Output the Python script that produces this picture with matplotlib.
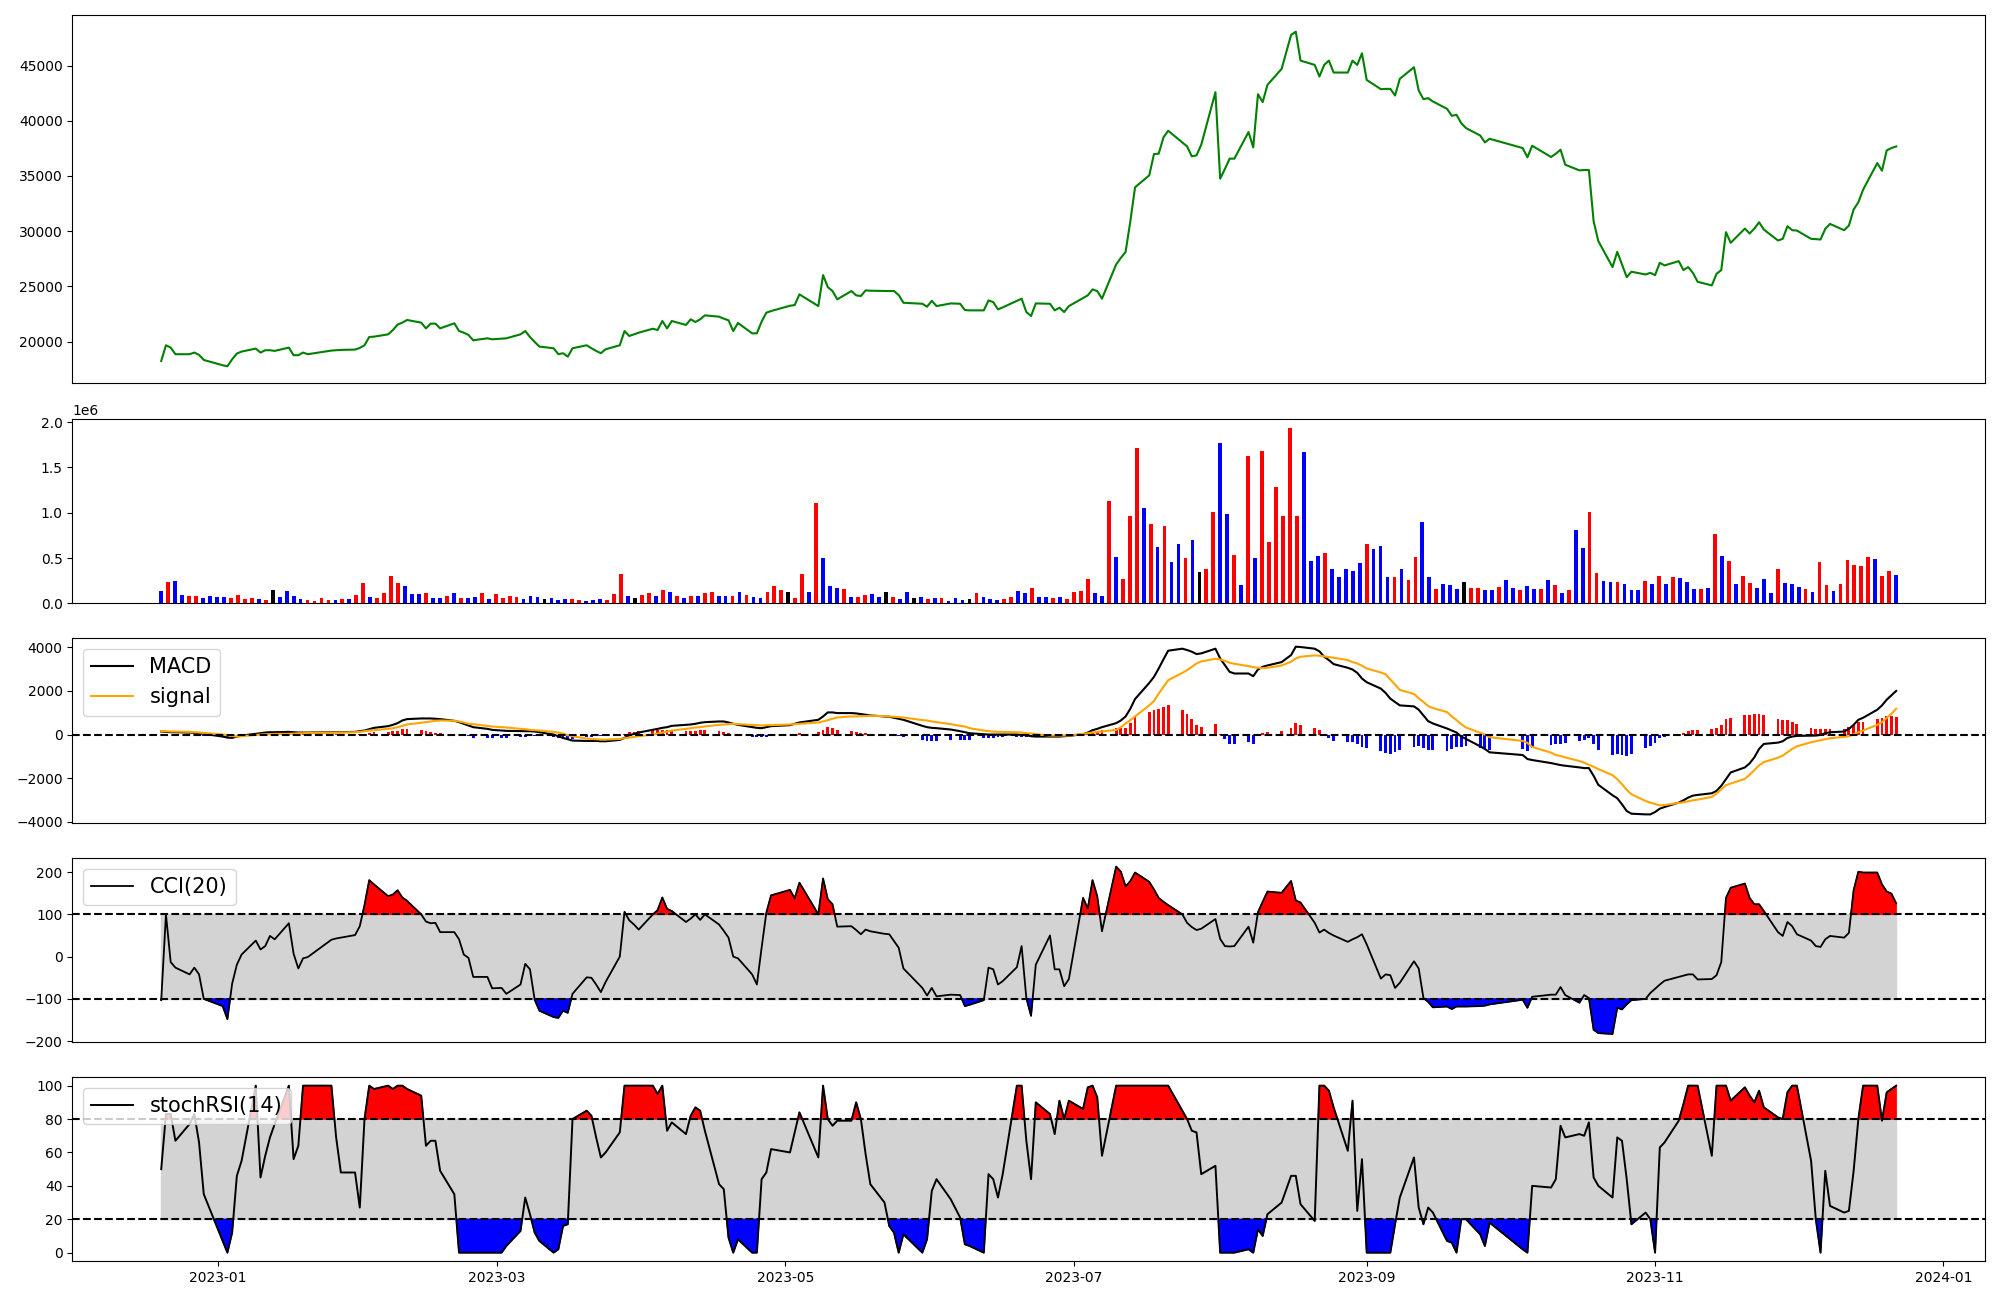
import numpy as np
import pandas as pd
import matplotlib
matplotlib.use("Agg")
import matplotlib.pyplot as plt
import matplotlib.dates as mdates

# ---------------- data ----------------
holidays = ['2022-12-30', '2023-01-23', '2023-01-24', '2023-03-01', '2023-05-01',
            '2023-05-05', '2023-05-29', '2023-06-06', '2023-08-15', '2023-09-28',
            '2023-09-29', '2023-10-02', '2023-10-03', '2023-10-09']
dates = pd.bdate_range('2022-12-20', '2023-12-22')
dates = dates[~dates.isin(pd.to_datetime(holidays))]

close = [
    18250, 19670, 19460, 18860, 18860, 19010, 18800, 18340,
    17860, 17770, 18400, 18920, 19100, 19370, 19010, 19220, 19220, 19160,
    19460, 18770, 18770, 19010, 18860, 19190, 19220, 19250, 19280, 19430,
    19670, 20420, 20450, 20660, 21050, 21540, 21720, 21960, 21720, 21200,
    21630, 21630, 21200, 21660, 20960, 20810, 20600, 20120, 20300, 20210,
    20270, 20300, 20660, 20960, 20420, 19970, 19550, 19400, 18860, 18950,
    18640, 19400, 19670, 19400, 19160, 18950, 19310, 19670, 20960, 20510, 20660, 20810,
    21170, 21050, 21870, 21200, 21870, 21510, 22020, 21780, 22020, 22380,
    22260, 22080, 21930, 20960, 21690, 20750, 20750, 21810, 22620, 22770,
    23250, 23310, 24280, 23220, 26020, 24940, 24580, 23830, 24580, 24190,
    24130, 24640, 24610, 24580, 24580, 24580, 24220, 23520, 23430, 23160,
    23700, 23220, 23460, 23430, 22860, 22830, 22830, 23730, 23580, 22920,
    23100, 23700, 23890, 22680, 22320, 23460, 23430, 22830, 23070, 22680, 23220,
    23950, 24190, 24730, 24580, 23890, 26990, 27590, 28130, 30900, 33980,
    35060, 36990, 37020, 38490, 39100, 38040, 37680, 36780, 36870, 37830, 42590,
    34760, 35630, 36570, 36570, 38980, 37590, 42410, 41690, 43250, 44700,
    47770, 48070, 45450, 45060, 44010, 45060, 45450, 44370, 44370, 45450, 45060, 46110,
    43700, 42860, 42890, 42890, 42290, 43800, 44850, 42740, 41960, 42050,
    41750, 41080, 40450, 40540, 39790, 39340, 38670, 38040, 38370,
    37530, 36690, 37740, 36720, 37020, 37380, 36020, 35510, 35540, 35540,
    30900, 29100, 26750, 28130, 26990, 25840, 26330, 26080, 26230,
    26020, 27140, 26900, 27290, 26480, 26750, 26230, 25420, 25090, 26140,
    26480, 29910, 28950, 30240, 29790, 30240, 30810, 30150, 29160, 29310, 30450, 30090,
    30060, 29310, 29280, 29250, 30210, 30660, 30090, 30510, 31960, 32620,
    33760, 36170, 35480, 37320, 37530, 37680,
]

volume = [
    136000, 235000, 246000, 92000, 81000, 81000, 59000, 81000, 70000, 70000,
    59000, 92000, 48000, 59000, 48000, 37000, 147000, 70000, 136000, 81000,
    48000, 37000, 26000, 59000, 37000, 37000, 48000, 48000, 92000, 224000,
    70000, 59000, 114000, 301000, 224000, 191000, 103000, 103000, 114000, 59000,
    59000, 81000, 114000, 59000, 59000, 70000, 114000, 48000, 103000, 59000,
    81000, 70000, 48000, 81000, 70000, 48000, 59000, 37000, 48000, 48000,
    37000, 26000, 37000, 48000,
    37000, 103000, 324000, 81000, 59000, 92000, 114000, 81000, 147000, 125000,
    81000, 59000, 81000, 81000, 114000, 125000, 81000, 81000, 81000, 125000,
    92000, 70000, 59000, 125000, 191000, 147000, 125000, 59000, 324000, 125000,
    1107000, 500000, 191000, 169000, 158000, 70000, 70000, 92000, 103000, 70000,
    125000, 70000, 48000, 125000, 59000, 70000, 48000, 59000, 59000, 26000,
    59000, 37000, 48000, 114000, 70000, 48000, 37000, 48000, 70000, 136000,
    114000, 169000, 70000,
    70000, 59000, 70000, 48000, 125000, 136000, 268000, 114000, 81000, 1129000,
    511000, 268000, 963000, 1713000, 1051000, 875000, 621000, 853000, 456000, 654000,
    500000, 699000, 346000, 379000, 1007000, 1768000, 985000, 533000, 202000, 1625000,
    500000, 1680000, 676000, 1283000, 963000, 1934000, 963000, 1669000, 467000, 522000,
    555000, 379000, 290000, 379000, 357000, 445000, 654000, 599000, 632000, 290000,
    290000, 379000, 257000, 511000, 897000, 290000, 158000, 213000, 202000, 158000,
    235000, 169000, 169000,
    147000, 147000, 180000, 257000, 169000, 147000, 191000, 158000, 158000, 257000,
    202000, 114000, 147000, 809000, 610000, 1007000, 335000, 246000, 235000, 235000,
    213000, 147000, 147000, 246000, 213000, 301000, 213000, 290000, 279000, 235000,
    158000, 158000, 169000, 765000, 522000, 467000, 213000, 301000, 224000, 169000,
    268000, 114000, 379000, 224000, 213000, 180000, 158000, 125000, 456000, 202000,
    136000, 213000, 478000, 423000, 412000, 511000, 489000, 301000, 357000, 313000,
]

# u = closed up (red), d = closed down (blue), f = unchanged (black)
direction = list(
    "dudduudddd" "uuuudufddd" "duuuududuu" "duuuudddud" "dududduduu"
    "uudddfdddu" "uddduuudfu" "ududududuu" "ddududduuu" "fuududddud"
    "uuddfuddfd" "ududddfudd" "duudduddud" "uuuudduduu" "udududdudf"
    "uuddududuu" "uuuudddudd" "dddudddudu" "uddudddfuu" "ddudduddud"
    "ududduuddu" "dddudududd" "dudududuud" "dduddduduu" "duuuuuduud"
)

macd = [
    138, 123, 108, 108, 92, 77, 61, 31,
    -92, -138, -154, -92, -46, 31, 61, 92, 108, 108, 123, 108, 92, 92, 92, 108, 108, 108, 123, 154,
    184, 246, 307, 384, 445, 522, 645, 707, 737, 737, 737, 722, 707, 630, 568, 492, 415, 338, 261, 215,
    184, 169, 154, 154, 154, 138, 108, 0, -77, -154, -215, -276, -292, -292, -292, -307, -307, -246,
    -154, -31, 31, 92,
    215, 261, 307, 338, 399, 445, 461, 492, 538, 568, 599, 599, 553, 492, 445, 338, 307, 292, 338, 384,
    430, 492, 553, 676, 829, 1014, 1014, 983, 983, 968, 937, 906, 876, 829, 814, 768, 722, 676, 399, 338,
    307, 292, 230, 154, 108, 61, 15, 0, 0, 0, 0, 0, -15, -31, -77, -92, -92, -92, -92, -77, -61,
    15, 92, 200, 261, 338, 522, 645, 829, 1183, 1628, 2365, 2642, 3026, 3441, 3840, 3932, 3871, 3794,
    3686, 3717, 3932,
    3487, 3180, 2872, 2796, 2796, 2673, 2980, 3103, 3164, 3318, 3640, 4024, 4009, 3932, 3809, 3564,
    3410, 3226, 3057, 2980, 2826, 2565,
    2396, 2104, 1904, 1643, 1490, 1336, 1290, 1137, 876, 614, 507, 276, 184, 92, -92, -200, -538, -660, -814,
    -937, -1121, -1167, -1306, -1352, -1398, -1428, -1505, -1536, -1536, -1889, -2304, -2780, -2918,
    -3195, -3502, -3625, -3656, -3656,
    -3548, -3395, -3318, -3118, -3011, -2888, -2796, -2765, -2688, -2580, -2350, -2043, -1736, -1505,
    -1321, -1044, -660, -430, -369, -307, -154, -92,
    -61, -46, -46, -15, 61, 107, 138, 261, 445, 676, 768, 1137, 1336, 1597, 1797, 1997,
]

signal = [
    154, 154, 138, 138, 123, 108, 92, 77,
    0, -31, -61, -92, -77, -15, 0, 15, 15, 31, 31, 46, 61, 61, 77, 92, 92, 92, 108, 123,
    154, 184, 200, 261, 292, 338, 399, 461, 538, 568, 599, 630, 645, 630, 599, 553, 492, 476, 399, 369,
    338, 323, 261, 246, 215, 200, 184, 123, 92, 46, -31, -77, -184, -200, -215, -230, -230, -200,
    -169, -138, -107, -77,
    0, 46, 92, 138, 184, 261, 292, 323, 338, 369, 445, 461, 476, 492, 476, 445, 430, 415, 430, 430,
    461, 476, 492, 553, 599, 660, 722, 783, 829, 829, 845, 845, 860, 845, 829, 814, 799, 783, 660, 645,
    599, 568, 476, 399, 369, 292, 184, 154, 138, 123, 123, 108, 92, 61, 46, 15, -46, -46, -46, -46, -46,
    31, 61, 92, 123, 138, 215, 338, 507, 660, 829, 1336, 1536, 1874, 2181, 2488, 2826, 2949, 3103,
    3256, 3349, 3471,
    3441, 3379, 3287, 3241, 3133, 3087, 3057, 3041, 3057, 3164, 3333, 3487, 3564, 3625, 3610, 3579,
    3548, 3518, 3410, 3318, 3256, 3149,
    3026, 2842, 2765, 2519, 2289, 2043, 1859, 1659, 1490, 1306, 1213, 1029, 829, 660, 476, 323, 77, 0, -123,
    -292, -384, -568, -829, -937, -983, -1044, -1213, -1290, -1382, -1475, -1582, -1859, -2043,
    -2273, -2534, -2734, -3041, -3118,
    -3180, -3241, -3226, -3133, -3103, -3057, -3011, -2980, -2857, -2703, -2504, -2319, -2243, -2028,
    -1843, -1628, -1413, -1260, -1060, -968, -814, -660,
    -538, -353, -307, -261, -215, -169, -107, -77, 15, 107, 184, 445, 568, 768, 952, 1183,
]

hist = [
    -16, -31, -30, -30, -31, -31, -31, -46,
    -92, -107, -93, 0, 31, 46, 61, 77, 93, 77, 92, 62, 31, 31, 15, 16, 16, 16, 15, 31,
    30, 62, 107, 123, 153, 184, 246, 246, 199, 169, 138, 92, 62, 0, -31, -61, -77, -138, -138, -154,
    -154, -154, -107, -92, -61, -62, -76, -123, -169, -200, -184, -199, -108, -92, -77, -77, -77, -46,
    15, 107, 138, 169,
    215, 215, 215, 200, 215, 184, 169, 169, 200, 199, 154, 138, 77, 0, -31, -107, -123, -123, -92, -46,
    -31, 16, 61, 123, 230, 354, 292, 200, 154, 139, 92, 61, 16, -16, -15, -46, -77, -107, -261, -307,
    -292, -276, -246, -245, -261, -231, -169, -154, -138, -123, -123, -108, -107, -92, -123, -107,
    -46, -46, -46, -31, -15,
    -16, 31, 108, 138, 200, 307, 307, 322, 523, 799, 1029, 1106, 1152, 1260, 1352, 1106, 922, 691,
    430, 368, 461,
    46, -199, -415, -445, -337, -414, -77, 62, 107, 154, 307, 537, 445, 307, 199, -15, -138, -292,
    -353, -338, -430, -584,
    -630, -738, -861, -876, -799, -707, -569, -522, -614, -692, -706, -753, -645, -568, -568, -523,
    -615, -660, -691,
    -645, -737, -599, -477, -415, -415, -384, -292, -246, -154, -414, -722, -921, -875, -922, -968,
    -891, -615, -538,
    -368, -154, -92, 15, 92, 169, 215, 215, 261, 307, 415, 722, 768, 880, 900, 920, 920, 900, 691,
    661, 660, 568,
    477, 307, 261, 246, 276, 276, 245, 338, 430, 569, 584, 692, 768, 829, 845, 814,
]

cci = [
    -103, 100, -13, -26, -42, -26, -42, -100,
    -117, -148, -64, -19, 5, 38, 17, 25, 49, 41, 79, 7, -28, -4, -1, 40, 43, 45, 51, 72,
    122, 181, 171, 143, 147, 157, 140, 132, 100, 83, 79, 80, 58, 58, 41, 5, -3, -48, -48, -75,
    -74, -88, -66, -17, -30, -102, -128, -143, -145, -128, -133, -88, -49, -50, -66, -84, -60, 0,
    106, 86, 76, 64,
    100, 110, 140, 113, 108, 82, 90, 100, 87, 100, 76, 61, 45, 0, -4, -42, -66, 21, 104, 145,
    158, 138, 175, 100, 185, 136, 124, 71, 72, 63, 53, 64, 60, 54, 53, 37, 21, -28, -74, -92,
    -74, -94, -90, -91, -117, -114, -103, -26, -30, -66, -58, -25, 25, -98, -140, -19, 50, -30, -30,
    -70, -53,
    139, 114, 181, 143, 60, 213, 201, 166, 179, 199, 177, 159, 139, 130, 122, 100, 80, 70, 63, 66, 89,
    42, 25, 24, 25, 71, 33, 105, 130, 154, 151, 179, 133, 128, 80, 57, 64, 56, 50, 35, 41, 46, 53,
    29, -52, -42, -44, -74, -62, -11, -28, -98, -107, -120, -118, -124, -118, -118, -118, -117, -116, -113,
    -102, -121, -95, -90, -90, -72, -91, -109, -91, -98, -173, -181, -183, -121, -125, -113, -103, -100, -86,
    -76, -66, -57, -48, -45, -42, -42, -54, -53, -44, -13, 139, 163, 173, 139, 124, 124, 108, 58, 49, 82, 72,
    53, 38, 25, 23, 41, 49, 45, 56, 157, 201, 199, 199, 171, 154, 149, 126,
]

stoch_rsi = [
    50, 83, 83, 67, 77, 83, 66, 35,
    7, 0, 12, 46, 55, 100, 45, 58, 69, 77, 100, 56, 64, 100, 100, 100, 69, 48, 48, 27,
    80, 100, 98, 100, 98, 100, 100, 98, 94, 64, 67, 67, 49, 35, 0, 0, 0, 0, 0, 0,
    0, 4, 13, 33, 23, 12, 7, 0, 2, 16, 17, 80, 85, 82, 69, 57, 60, 72, 100, 100, 100, 100,
    100, 95, 100, 73, 78, 71, 82, 87, 85, 73, 41, 38, 9, 0, 8, 0, 0, 44, 48, 62,
    60, 72, 84, 57, 100, 80, 76, 79, 79, 90, 80, 59, 41, 30, 16, 12, 0, 11, 0, 8,
    37, 44, 32, 21, 5, 4, 0, 47, 44, 33, 47, 100, 100, 67, 44, 90, 83, 71, 91, 80, 91,
    86, 99, 100, 93, 58, 100, 100, 100, 100, 100, 100, 100, 100, 100, 100, 85, 80, 73, 72, 47, 52,
    0, 0, 0, 0, 2, 0, 14, 10, 23, 30, 46, 46, 29, 19, 100, 100, 97, 87, 61, 91, 25, 56,
    0, 0, 0, 0, 17, 33, 57, 27, 17, 27, 24, 7, 6, 0, 20, 20, 11, 4, 18,
    2, 0, 40, 39, 44, 76, 69, 71, 70, 78, 45, 40, 33, 69, 67, 44, 17, 24, 20,
    0, 63, 66, 79, 89, 100, 100, 100, 58, 100, 100, 100, 91, 99, 94, 90, 97, 87, 81, 80, 96, 100,
    100, 55, 20, 0, 49, 28, 24, 25, 49, 80, 100, 100, 79, 96, 98, 100,
]

# ---------------- figure ----------------
n = len(dates)
close = np.array(close[:n], float)
volume = np.array(volume[:n], float)
macd = np.array(macd[:n], float)
signal = np.array(signal[:n], float)
hist = np.array(hist[:n], float)
cci = np.array(cci[:n], float)
stoch_rsi = np.array(stoch_rsi[:n], float)
direction = (direction + ['u'] * n)[:n]

fig = plt.figure(figsize=(20, 13), dpi=100)
L, W = 0.0362, 0.9563
ax1 = fig.add_axes([L, 0.7054, W, 0.2831])
ax2 = fig.add_axes([L, 0.5359, W, 0.1416], sharex=ax1)
ax3 = fig.add_axes([L, 0.3671, W, 0.1419], sharex=ax1)
ax4 = fig.add_axes([L, 0.1982, W, 0.1416], sharex=ax1)
ax5 = fig.add_axes([L, 0.0300, W, 0.1413], sharex=ax1)

# price
ax1.plot(dates, close, color='green', lw=1.5)

# volume (bars evenly spaced over the period)
xnum = mdates.date2num(dates)
xv = np.linspace(xnum[0], xnum[-1], n)
cmap = {'u': 'red', 'd': 'blue', 'f': 'black'}
ax2.bar(xv, volume, width=0.8, color=[cmap[c] for c in direction])

# MACD
ax3.bar(dates, hist, width=0.6, color=['red' if h >= 0 else 'blue' for h in hist])
ax3.plot(dates, macd, color='black', lw=1.5, label='MACD')
ax3.plot(dates, signal, color='orange', lw=1.5, label='signal')
ax3.axhline(0, color='black', ls='--', lw=1.5)
ax3.legend(loc='upper left', fontsize=15)

# CCI
ax4.fill_between(dates, -100, 100, color='lightgray')
ax4.fill_between(dates, cci, 100, where=cci >= 100, interpolate=True, color='red')
ax4.fill_between(dates, cci, -100, where=cci <= -100, interpolate=True, color='blue')
ax4.plot(dates, cci, color='black', lw=1.3, label='CCI(20)')
ax4.axhline(100, color='black', ls='--', lw=1.5)
ax4.axhline(-100, color='black', ls='--', lw=1.5)
ax4.legend(loc='upper left', fontsize=15)

# stochastic RSI
ax5.fill_between(dates, 20, 80, color='lightgray')
ax5.fill_between(dates, stoch_rsi, 80, where=stoch_rsi >= 80, interpolate=True, color='red')
ax5.fill_between(dates, stoch_rsi, 20, where=stoch_rsi <= 20, interpolate=True, color='blue')
ax5.plot(dates, stoch_rsi, color='black', lw=1.4, label='stochRSI(14)')
ax5.axhline(80, color='black', ls='--', lw=1.5)
ax5.axhline(20, color='black', ls='--', lw=1.5)
ax5.legend(loc='upper left', fontsize=15)

for ax in (ax1, ax2, ax3, ax4):
    ax.tick_params(axis='x', which='both', bottom=False, labelbottom=False)

ax5.xaxis.set_major_locator(mdates.MonthLocator(bymonth=[1, 3, 5, 7, 9, 11]))
ax5.xaxis.set_major_formatter(mdates.DateFormatter('%Y-%m'))

fig.savefig('out.png', dpi=100)
